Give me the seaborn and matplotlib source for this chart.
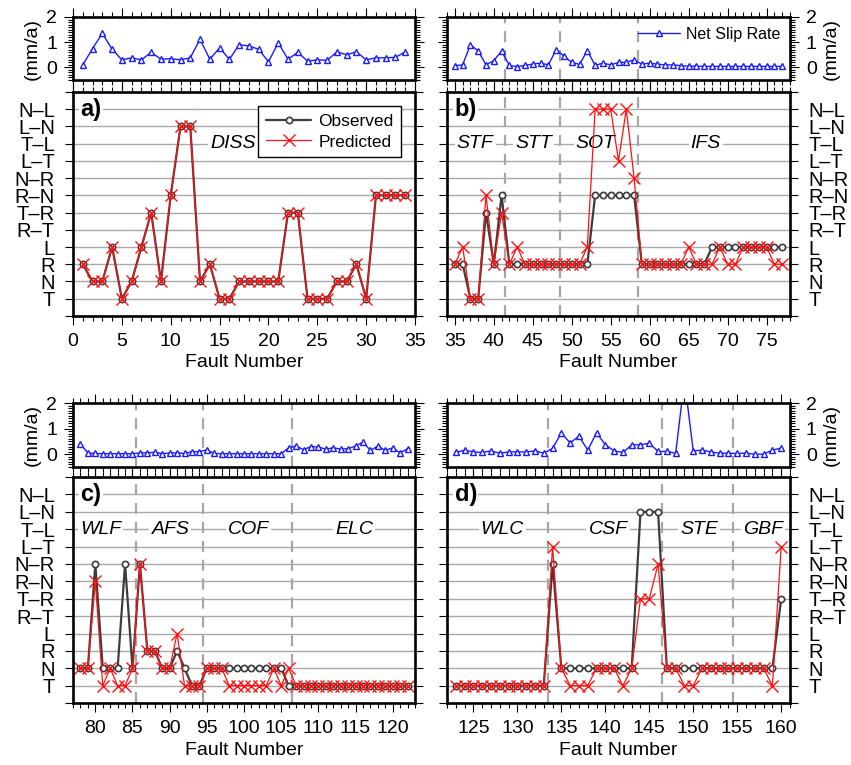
import matplotlib
matplotlib.use('Agg')
import pandas as pd
import matplotlib.pyplot as plt
import seaborn as sns
from matplotlib.lines import Line2D
from matplotlib.ticker import MultipleLocator

sns.set_style('ticks')
plt.rcParams['font.family'] = ['Liberation Sans', 'DejaVu Sans']
plt.rcParams['text.color'] = 'black'
plt.rcParams['axes.labelcolor'] = 'black'
plt.rcParams['xtick.color'] = 'black'
plt.rcParams['ytick.color'] = 'black'

# 断层类型（自下而上）
type_codes = ['T', 'N', 'R', 'L', 'RT', 'TR', 'RN', 'NR', 'LT', 'TL', 'LN', 'NL']
type_labels = ['T', 'N', 'R', 'L', 'R–T', 'T–R', 'R–N', 'N–R', 'L–T', 'T–L', 'L–N', 'N–L']

# a) 断层 1-34
obs_a = ['R', 'N', 'N', 'L', 'T', 'N', 'L', 'TR', 'N', 'RN', 'LN', 'LN', 'N', 'R', 'T', 'T', 'N',
         'N', 'N', 'N', 'N', 'TR', 'TR', 'T', 'T', 'T', 'N', 'N', 'R', 'T', 'RN', 'RN', 'RN', 'RN']
pred_a = ['R', 'N', 'N', 'L', 'T', 'N', 'L', 'TR', 'N', 'RN', 'LN', 'LN', 'N', 'R', 'T', 'T', 'N',
          'N', 'N', 'N', 'N', 'TR', 'TR', 'T', 'T', 'T', 'N', 'N', 'R', 'T', 'RN', 'RN', 'RN', 'RN']
slip_a = [0.1, 0.75, 1.35, 0.72, 0.3, 0.38, 0.3, 0.6, 0.32, 0.35, 0.3, 0.38, 1.12, 0.32, 0.78, 0.32, 0.9,
          0.85, 0.72, 0.22, 0.98, 0.32, 0.6, 0.25, 0.3, 0.28, 0.62, 0.5, 0.62, 0.3, 0.38, 0.38, 0.4, 0.62]

# b) 断层 35-77
obs_b = ['R', 'R', 'T', 'T', 'TR', 'R', 'RN', 'R', 'R', 'R', 'R', 'R', 'R', 'R', 'R', 'R', 'R', 'R',
         'RN', 'RN', 'RN', 'RN', 'RN', 'RN', 'R', 'R', 'R', 'R', 'R', 'R', 'R', 'R', 'R',
         'L', 'L', 'L', 'L', 'L', 'L', 'L', 'L', 'L', 'L']
pred_b = ['R', 'L', 'T', 'T', 'RN', 'R', 'TR', 'R', 'L', 'R', 'R', 'R', 'R', 'R', 'R', 'R', 'R', 'L',
          'NL', 'NL', 'NL', 'LT', 'NL', 'NR', 'R', 'R', 'R', 'R', 'R', 'R', 'L', 'R', 'R',
          'R', 'L', 'R', 'R', 'L', 'L', 'L', 'L', 'R', 'R']
slip_b = [0.07, 0.1, 0.9, 0.65, 0.1, 0.27, 0.65, 0.08, 0.03, 0.08, 0.13, 0.17, 0.1, 0.7, 0.45, 0.2,
          0.12, 0.67, 0.08, 0.17, 0.1, 0.2, 0.2, 0.3, 0.13, 0.17, 0.13, 0.1, 0.1, 0.07,
          0.05, 0.05, 0.04, 0.04, 0.04, 0.04, 0.04, 0.04, 0.04, 0.04, 0.04, 0.04, 0.04]

# c) 断层 78-122
obs_c = ['N', 'N', 'NR', 'N', 'N', 'N', 'NR', 'N', 'NR', 'R', 'R', 'N', 'N', 'R', 'N', 'T', 'T',
         'N', 'N', 'N', 'N', 'N', 'N', 'N', 'N', 'N', 'N', 'N', 'T',
         'T', 'T', 'T', 'T', 'T', 'T', 'T', 'T', 'T', 'T', 'T', 'T', 'T', 'T', 'T', 'T']
pred_c = ['N', 'N', 'RN', 'T', 'N', 'T', 'T', 'N', 'NR', 'R', 'R', 'N', 'N', 'L', 'T', 'T', 'T',
          'N', 'N', 'N', 'T', 'T', 'T', 'T', 'T', 'T', 'N', 'T', 'N',
          'T', 'T', 'T', 'T', 'T', 'T', 'T', 'T', 'T', 'T', 'T', 'T', 'T', 'T', 'T', 'T']
slip_c = [0.4, 0.05, 0.03, 0.02, 0.02, 0.02, 0.02, 0.02, 0.05, 0.05, 0.08, 0.02, 0.05, 0.05, 0.03,
          0.1, 0.1, 0.17, 0.03, 0.02, 0.02, 0.02, 0.02, 0.02, 0.02, 0.02, 0.02, 0.02, 0.25,
          0.32, 0.18, 0.3, 0.28, 0.2, 0.25, 0.2, 0.22, 0.32, 0.48, 0.15, 0.32, 0.15, 0.25, 0.05, 0.22]

# d) 断层 123-160
obs_d = ['T', 'T', 'T', 'T', 'T', 'T', 'T', 'T', 'T', 'T', 'T', 'NR', 'N', 'N', 'N', 'N', 'N', 'N',
         'N', 'N', 'N', 'LN', 'LN', 'LN', 'N', 'N', 'N', 'N', 'N', 'N', 'N', 'N', 'N', 'N', 'N',
         'N', 'N', 'TR']
pred_d = ['T', 'T', 'T', 'T', 'T', 'T', 'T', 'T', 'T', 'T', 'T', 'LT', 'N', 'T', 'T', 'T', 'N', 'N',
          'N', 'T', 'N', 'TR', 'TR', 'NR', 'N', 'N', 'T', 'T', 'N', 'N', 'N', 'N', 'N', 'N', 'N',
          'N', 'T', 'LT']
slip_d = [0.07, 0.16, 0.09, 0.07, 0.13, 0.04, 0.09, 0.09, 0.09, 0.13, 0.04, 0.23, 0.83, 0.44, 0.71,
          0.16, 0.84, 0.37, 0.13, 0.07, 0.36, 0.37, 0.43, 0.11, 0.11, 0.04, 2.9, 0.13, 0.16, 0.09,
          0.04, 0.04, 0.03, 0.04, 0.0, 0.0, 0.16, 0.24]

panels = [
    dict(tag='a)', first=1, obs=obs_a, pred=pred_a, slip=slip_a, xlim=(0, 35), bounds=[],
         regions=[('DISS', 16.4)], side='left', x0=0.0858, w=0.4019, row=0),
    dict(tag='b)', first=35, obs=obs_b, pred=pred_b, slip=slip_b, xlim=(34, 78), bounds=[41.5, 48.5, 58.5],
         regions=[('STF', 37.6), ('STT', 45.1), ('SOT', 53.1), ('IFS', 67.2)], side='right', x0=0.5253, w=0.403, row=0),
    dict(tag='c)', first=78, obs=obs_c, pred=pred_c, slip=slip_c, xlim=(77, 123), bounds=[85.5, 94.5, 106.5],
         regions=[('WLF', 80.7), ('AFS', 90.1), ('COF', 100.6), ('ELC', 114.8)], side='left', x0=0.0858, w=0.4019, row=1),
    dict(tag='d)', first=123, obs=obs_d, pred=pred_d, slip=slip_d, xlim=(122, 161), bounds=[133.5, 146.5, 154.5],
         regions=[('WLC', 128.3), ('CSF', 140.3), ('STE', 150.7), ('GBF', 157.9)], side='right', x0=0.5253, w=0.403, row=1),
]
# 每行: 上方小图 bottom, height; 主图 bottom, height
rows = [(0.8954, 0.0824, 0.587, 0.2928), (0.3895, 0.0837, 0.081, 0.2954)]

fig = plt.figure(figsize=(8.51, 7.65), dpi=100)


def style_frame(ax):
    for sp in ax.spines.values():
        sp.set_linewidth(1.9)
        sp.set_color('black')
        sp.set_zorder(10)
    ax.tick_params(which='both', direction='out', top=True, bottom=True, left=True, right=True,
                   width=0.8, color='black', labelcolor='black')
    ax.tick_params(which='major', length=6.5)
    ax.tick_params(which='minor', length=3.3)


for p in panels:
    sb, sh, mb, mh = rows[p['row']]
    ax_s = fig.add_axes([p['x0'], sb, p['w'], sh])
    ax_m = fig.add_axes([p['x0'], mb, p['w'], mh])
    faults = list(range(p['first'], p['first'] + len(p['obs'])))
    df = pd.DataFrame({'fault': faults,
                       'obs': [type_codes.index(c) + 1 for c in p['obs']],
                       'pred': [type_codes.index(c) + 1 for c in p['pred']],
                       'slip': p['slip']})

    # 滑动速率
    sns.lineplot(data=df, x='fault', y='slip', ax=ax_s, color='#1a1aff', linewidth=1.0, marker='^',
                 markersize=5, markerfacecolor='white', markeredgecolor='#1a1aff', markeredgewidth=1.0,
                 estimator=None, sort=False, zorder=4)
    for b in p['bounds']:
        ax_s.axvline(b, color='#a6a6a6', linewidth=1.6, dashes=(5, 3.5), zorder=1.5)
    ax_s.set_xlim(*p['xlim'])
    ax_s.set_ylim(-0.5, 2)
    ax_s.set_yticks([0, 1, 2])
    ax_s.yaxis.set_minor_locator(MultipleLocator(0.1))
    ax_s.xaxis.set_major_locator(MultipleLocator(5))
    ax_s.xaxis.set_minor_locator(MultipleLocator(1))
    style_frame(ax_s)
    ax_s.tick_params(labelbottom=False, labeltop=False, labelsize=14, pad=5)
    ax_s.set_xlabel('')
    ax_s.set_ylabel('(mm/a)', fontsize=14, labelpad=4)
    if p['side'] == 'right':
        ax_s.tick_params(labelleft=False, labelright=True)
        ax_s.yaxis.set_label_position('right')
    else:
        ax_s.tick_params(labelleft=True, labelright=False)
    if p['tag'] == 'b)':
        slip_handle = Line2D([], [], color='#1a1aff', linewidth=1.0, marker='^', markersize=5,
                             markerfacecolor='white', markeredgecolor='#1a1aff', markeredgewidth=1.0)
        ax_s.legend([slip_handle], ['Net Slip Rate'], loc='upper right', frameon=False, fontsize=11.5,
                    numpoints=1, handlelength=2.6, borderaxespad=0.2, handletextpad=0.4)

    # 观测与预测的断层类型
    ax_m.set_ylim(0, 13)
    ax_m.set_xlim(*p['xlim'])
    ax_m.set_yticks(range(14))
    ax_m.set_yticklabels([''] + type_labels + [''])
    ax_m.grid(axis='y', color='#a9a9a9', linewidth=1.0, zorder=0)
    ax_m.set_axisbelow(True)
    for b in p['bounds']:
        ax_m.axvline(b, color='#a6a6a6', linewidth=1.6, dashes=(5, 3.5), zorder=1.5)
    sns.lineplot(data=df, x='fault', y='obs', ax=ax_m, color='#3c3c3c', linewidth=1.6, marker='o',
                 markersize=4.5, markerfacecolor='white', markeredgecolor='#3c3c3c', markeredgewidth=1.2,
                 estimator=None, sort=False, zorder=4)
    sns.lineplot(data=df, x='fault', y='pred', ax=ax_m, color='#ff1010', linewidth=0.9, marker='x',
                 markersize=8.5, markeredgecolor='#ff1010', markeredgewidth=1.0,
                 estimator=None, sort=False, zorder=5)
    ax_m.xaxis.set_major_locator(MultipleLocator(5))
    ax_m.xaxis.set_minor_locator(MultipleLocator(1))
    style_frame(ax_m)
    ax_m.tick_params(axis='y', which='major', length=6, pad=7, labelsize=14.5)
    ax_m.tick_params(axis='x', labelsize=14, pad=6, labeltop=False)
    ax_m.set_xlabel('Fault Number', fontsize=14, labelpad=3)
    ax_m.set_ylabel('')
    if p['side'] == 'right':
        ax_m.tick_params(axis='y', labelleft=False, labelright=True)
    else:
        ax_m.tick_params(axis='y', labelleft=True, labelright=False)

    # 区域名称
    for name, xc in p['regions']:
        ax_m.text(xc, 10, name, fontsize=14, style='italic', ha='center', va='center', zorder=3,
                  bbox=dict(facecolor='white', edgecolor='none', pad=1.5))
    ax_m.text(0.022, 12, p['tag'], transform=ax_m.get_yaxis_transform(), fontsize=17,
              fontweight='bold', ha='left', va='center', zorder=6,
              bbox=dict(facecolor='white', edgecolor='none', pad=1.0))
    if p['tag'] == 'a)':
        obs_handle = Line2D([], [], color='#3c3c3c', linewidth=1.6, marker='o', markersize=4.5,
                            markerfacecolor='white', markeredgecolor='#3c3c3c', markeredgewidth=1.2)
        pred_handle = Line2D([], [], color='#ff1010', linewidth=0.9, marker='x', markersize=8.5,
                             markeredgecolor='#ff1010', markeredgewidth=1.0)
        leg = ax_m.legend([obs_handle, pred_handle], ['Observed', 'Predicted'], loc='upper right',
                          bbox_to_anchor=(0.985, 0.975), fontsize=12.5, fancybox=False, framealpha=1,
                          edgecolor='black', handlelength=2.6, borderpad=0.45, labelspacing=0.3,
                          handletextpad=0.4, numpoints=1)
        leg.get_frame().set_linewidth(1.0)
        leg.set_zorder(8)

fig.savefig('out.png', dpi=100)
